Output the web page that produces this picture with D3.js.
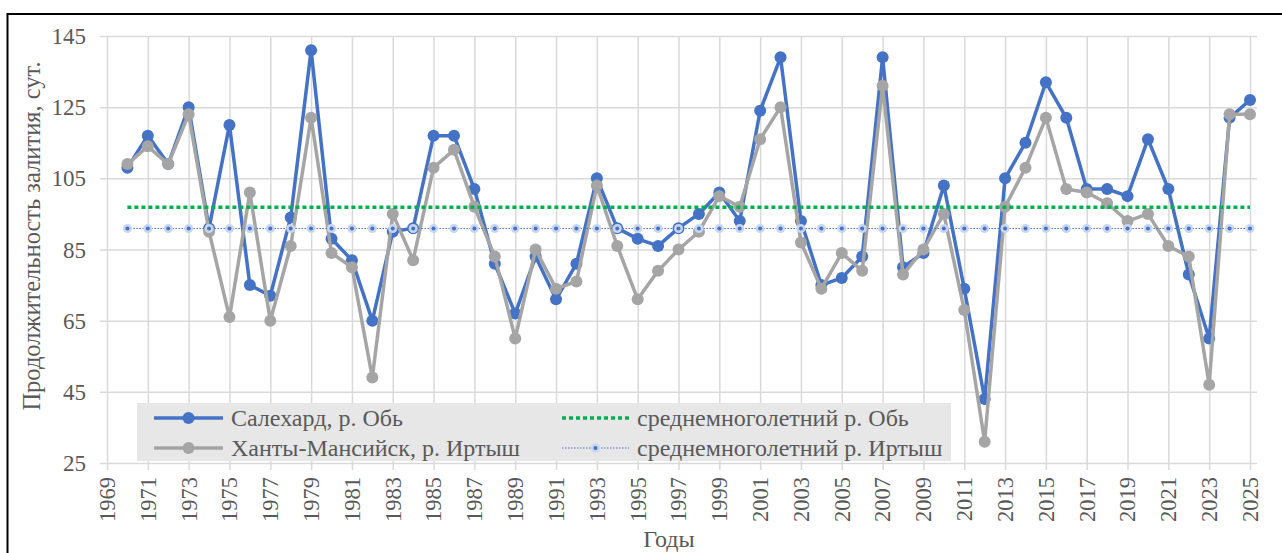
<!DOCTYPE html>
<html lang="ru">
<head>
<meta charset="utf-8">
<script src="https://cdn.jsdelivr.net/npm/d3@7"></script>
<style>
	html, body { margin: 0; padding: 0; background: #fff; overflow: hidden; }
	svg { display: block; font-family: "Liberation Serif", "Times New Roman", serif; }
</style>
</head>
<body>
<div id="chart"></div>
<script>
const years = d3.range(1970, 2026);

// Салехард, р. Обь
const salekhard = [
	108, 117, 109, 125, 91, 120, 75, 72, 94, 141,
	88, 82, 65, 90, 91, 117, 117, 102, 81, 67,
	83, 71, 81, 105, 91, 88, 86, 91, 95, 101,
	93, 124, 139, 93, 75, 77, 83, 139, 80, 84,
	103, 74, 43, 105, 115, 132, 122, 102, 102, 100,
	116, 102, 78, 60, 122, 127,
];

// Ханты-Мансийск, р. Иртыш
const khanty = [
	109, 114, 109, 123, 90, 66, 101, 65, 86, 122,
	84, 80, 49, 95, 82, 108, 113, 97, 83, 60,
	85, 74, 76, 103, 86, 71, 79, 85, 90, 100,
	97, 116, 125, 87, 74, 84, 79, 131, 78, 85,
	95, 68, 31, 97, 108, 122, 102, 101, 98, 93,
	95, 86, 83, 47, 123, 123,
];

const meanOb = 96.9;
const meanIrtysh = 90.9;

const xTicks = d3.range(1969, 2026, 2);
const yTicks = [25, 45, 65, 85, 105, 125, 145];

const seriesNames = [
	"Салехард, р. Обь",
	"Ханты-Мансийск, р. Иртыш",
	"среднемноголетний р. Обь",
	"среднемноголетний р. Иртыш",
];
const yTitle = "Продолжительность залития, сут.";
const xTitle = "Годы";

const width = 1282;
const height = 553;
const plot = { left: 107, right: 1250, top: 36, bottom: 463 };

const blue = "#4472c4";
const gray = "#a5a5a5";
const green = "#00b050";
const gridColor = "#d9d9d9";
const textColor = "#595959";

const svg = d3
	.select("#chart")
	.append("svg")
	.attr("width", width)
	.attr("height", height);

// outer frame of the chart
svg.append("rect")
	.attr("x", 7.5)
	.attr("y", 14)
	.attr("width", width + 20)
	.attr("height", height + 20)
	.attr("fill", "#fff")
	.attr("stroke", "#000")
	.attr("stroke-width", 2);

const x = d3.scaleLinear().domain([1969, 2025]).range([plot.left, plot.right]);
const y = d3.scaleLinear().domain([25, 145]).range([plot.bottom, plot.top]);

// gridlines
svg.append("g")
	.attr("transform", `translate(${plot.left},0)`)
	.call(d3.axisLeft(y).tickValues(yTicks).tickSize(-(plot.right - plot.left) - 7).tickFormat(""))
	.call((g) => g.select(".domain").remove())
	.call((g) => g.selectAll(".tick line").attr("x1", -7).attr("stroke", gridColor).attr("stroke-width", 1.5));

svg.append("g")
	.attr("transform", `translate(0,${plot.bottom})`)
	.call(d3.axisBottom(x).tickValues(xTicks).tickSize(-(plot.bottom - plot.top)).tickFormat(""))
	.call((g) => g.select(".domain").remove())
	.call((g) => g.selectAll(".tick line").attr("y1", 7).attr("stroke", gridColor).attr("stroke-width", 1.5));

// tick labels
svg.append("g")
	.selectAll("text")
	.data(yTicks)
	.join("text")
	.attr("x", 86)
	.attr("y", (d) => y(d))
	.attr("dy", "0.35em")
	.attr("text-anchor", "end")
	.attr("font-size", 23)
	.attr("fill", textColor)
	.text((d) => d);

svg.append("g")
	.selectAll("text")
	.data(xTicks)
	.join("text")
	.attr("transform", (d) => `translate(${x(d)},${plot.bottom + 14}) rotate(-90)`)
	.attr("dy", "0.35em")
	.attr("text-anchor", "end")
	.attr("font-size", 22.5)
	.attr("fill", textColor)
	.text((d) => d);

// axis titles
svg.append("text")
	.attr("transform", "translate(40,236) rotate(-90)")
	.attr("text-anchor", "middle")
	.attr("font-size", 24.5)
	.attr("fill", textColor)
	.text(yTitle);

svg.append("text")
	.attr("x", 669)
	.attr("y", 547)
	.attr("text-anchor", "middle")
	.attr("font-size", 24)
	.attr("fill", textColor)
	.text(xTitle);

// legend box (drawn under the series, as in the source)
const legend = svg.append("g");
legend.append("rect")
	.attr("x", 137)
	.attr("y", 403)
	.attr("width", 814)
	.attr("height", 58)
	.attr("fill", "#e7e7e7");

const line = d3.line().x((d) => x(d[0])).y((d) => y(d[1]));

function drawSeries(values, color) {
	const pts = years.map((yr, i) => [yr, values[i]]);
	const g = svg.append("g");
	g.append("path")
		.datum(pts)
		.attr("d", line)
		.attr("fill", "none")
		.attr("stroke", color)
		.attr("stroke-width", 3.5)
		.attr("stroke-linejoin", "round");
	g.selectAll("circle")
		.data(pts)
		.join("circle")
		.attr("cx", (d) => x(d[0]))
		.attr("cy", (d) => y(d[1]))
		.attr("r", 6)
		.attr("fill", color);
}

drawSeries(salekhard, blue);
drawSeries(khanty, gray);

// mean of the Ob
svg.append("line")
	.attr("x1", x(years[0]))
	.attr("x2", x(years[years.length - 1]))
	.attr("y1", y(meanOb))
	.attr("y2", y(meanOb))
	.attr("stroke", green)
	.attr("stroke-width", 3.5)
	.attr("stroke-dasharray", "4,3");

// mean of the Irtysh, with small markers
svg.append("line")
	.attr("x1", x(years[0]))
	.attr("x2", x(years[years.length - 1]))
	.attr("y1", y(meanIrtysh))
	.attr("y2", y(meanIrtysh))
	.attr("stroke", blue)
	.attr("stroke-width", 1)
	.attr("stroke-dasharray", "1.5,1.5");

function irtyshMarker(g, cx, cy) {
	g.append("circle").attr("cx", cx).attr("cy", cy).attr("r", 4.5).attr("fill", "#c9d6f0");
	g.append("circle").attr("cx", cx).attr("cy", cy).attr("r", 2).attr("fill", blue);
}

const meanMarks = svg.append("g");
years.forEach((yr) => irtyshMarker(meanMarks, x(yr), y(meanIrtysh)));

// legend entries
const rows = [
	{ x0: 154, x1: 223, y: 418, name: seriesNames[0], kind: "blue" },
	{ x0: 154, x1: 223, y: 448, name: seriesNames[1], kind: "gray" },
	{ x0: 562, x1: 629, y: 418, name: seriesNames[2], kind: "ob" },
	{ x0: 562, x1: 629, y: 448, name: seriesNames[3], kind: "irtysh" },
];

rows.forEach((r) => {
	const mid = (r.x0 + r.x1) / 2;
	if (r.kind === "blue" || r.kind === "gray") {
		const c = r.kind === "blue" ? blue : gray;
		legend.append("line")
			.attr("x1", r.x0).attr("x2", r.x1).attr("y1", r.y).attr("y2", r.y)
			.attr("stroke", c).attr("stroke-width", 3.5);
		legend.append("circle").attr("cx", mid).attr("cy", r.y).attr("r", 6).attr("fill", c);
	} else if (r.kind === "ob") {
		legend.append("line")
			.attr("x1", r.x0).attr("x2", r.x1).attr("y1", r.y).attr("y2", r.y)
			.attr("stroke", green).attr("stroke-width", 3.5).attr("stroke-dasharray", "4,3");
	} else {
		legend.append("line")
			.attr("x1", r.x0).attr("x2", r.x1).attr("y1", r.y).attr("y2", r.y)
			.attr("stroke", blue).attr("stroke-width", 1).attr("stroke-dasharray", "1.5,1.5");
		irtyshMarker(legend, mid, r.y);
	}
	legend.append("text")
		.attr("x", r.x1 + 8)
		.attr("y", r.y)
		.attr("dy", "0.33em")
		.attr("font-size", 24)
		.attr("fill", textColor)
		.text(r.name);
});
</script>
</body>
</html>
